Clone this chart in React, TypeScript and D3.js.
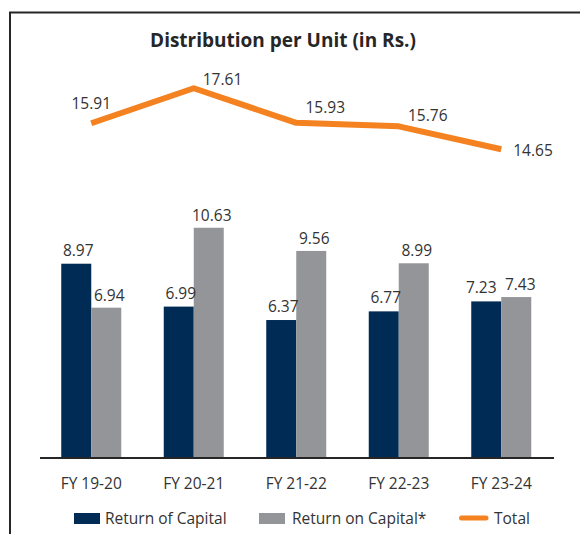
import React from "react";
import * as d3 from "d3";

const categories = ["FY 19-20", "FY 20-21", "FY 21-22", "FY 22-23", "FY 23-24"];
const returnOfCapital = [8.97, 6.99, 6.37, 6.77, 7.23];
const returnOnCapital = [6.94, 10.63, 9.56, 8.99, 7.43];
const total = [15.91, 17.61, 15.93, 15.76, 14.65];
const seriesNames = ["Return of Capital", "Return on Capital*", "Total"];
const titleText = "Distribution per Unit (in Rs.)";

// label placement (layout only)
const totalLabelPlacement = [
  { dx: 0, dy: -14, anchor: "middle" },
  { dx: 9, dy: -3, anchor: "start" },
  { dx: 29, dy: -10, anchor: "middle" },
  { dx: 29, dy: -5, anchor: "middle" },
  { dx: 12, dy: 7, anchor: "start" },
];
const navyLabelDx = [2, 2, 2, 2, -5];
const grayLabelDx = [3, 3, 3, 3, 4];

const W = 580;
const H = 534;
const NAVY = "#002b54";
const GRAY = "#939598";
const ORANGE = "#f58220";
const TEXT = "#333333";
const FONT = "'Open Sans', sans-serif";

export default function App() {
  const x = d3.scaleBand<string>().domain(categories).range([40, 552.5]).padding(0);
  const sub = d3.scaleBand<string>().domain(["roc", "ronc"]).range([0, 60]).padding(0);
  const yBar = d3.scaleLinear().domain([0, 20]).range([458, 458 - 433.2]);
  const yLine = d3.scaleLinear().domain([0, 20]).range([451, 451 - 412]);
  const cx = (c: string) => (x(c) as number) + x.bandwidth() / 2;

  const lineGen = d3
    .line<number>()
    .x((_, i) => cx(categories[i]))
    .y((d) => yLine(d));

  return (
    <div style={{ position: "absolute", left: 0, top: 0 }}>
      <svg width={W} height={H} style={{ display: "block", background: "#fff" }} fontFamily={FONT}>
        <rect x={0} y={0} width={W} height={H} fill="#fff" />
        {/* frame */}
        <path d={`M10,${H} L10,12.5 L${W},12.5`} fill="none" stroke="#262626" strokeWidth={2} />
        {/* title */}
        <text x={283} y={46.5} textAnchor="middle" fontSize={19} fontWeight={700} fill="#262626">
          {titleText}
        </text>
        {/* bars */}
        {categories.map((c, i) => {
          const bx = cx(c) - 30;
          return (
            <g key={c}>
              <rect
                x={bx + (sub("roc") as number)}
                y={yBar(returnOfCapital[i])}
                width={sub.bandwidth()}
                height={yBar(0) - yBar(returnOfCapital[i])}
                fill={NAVY}
              />
              <rect
                x={bx + (sub("ronc") as number)}
                y={yBar(returnOnCapital[i])}
                width={sub.bandwidth()}
                height={yBar(0) - yBar(returnOnCapital[i])}
                fill={GRAY}
              />
              <text
                x={bx + (sub("roc") as number) + sub.bandwidth() / 2 + navyLabelDx[i]}
                y={yBar(returnOfCapital[i]) - 8}
                textAnchor="middle"
                fontSize={15.5}
                fill={TEXT}
              >
                {returnOfCapital[i].toFixed(2)}
              </text>
              <text
                x={bx + (sub("ronc") as number) + sub.bandwidth() / 2 + grayLabelDx[i]}
                y={yBar(returnOnCapital[i]) - 7}
                textAnchor="middle"
                fontSize={15.5}
                fill={TEXT}
              >
                {returnOnCapital[i].toFixed(2)}
              </text>
              <text x={cx(c)} y={489} textAnchor="middle" fontSize={15.5} fill={TEXT}>
                {c}
              </text>
            </g>
          );
        })}
        {/* baseline */}
        <line x1={40} x2={554} y1={458} y2={458} stroke="#262626" strokeWidth={2} />
        {/* total line */}
        <path d={lineGen(total) || ""} fill="none" stroke={ORANGE} strokeWidth={6} strokeLinejoin="round" strokeLinecap="butt" />
        {total.map((v, i) => {
          const p = totalLabelPlacement[i];
          return (
            <text
              key={i}
              x={cx(categories[i]) + p.dx}
              y={yLine(v) + p.dy}
              textAnchor={p.anchor as any}
              fontSize={15.5}
              fill={TEXT}
            >
              {v.toFixed(2)}
            </text>
          );
        })}
        {/* legend */}
        <g>
          <rect x={74} y={513} width={26} height={11} fill={NAVY} />
          <text x={105} y={524} fontSize={15.5} fill={TEXT}>
            {seriesNames[0]}
          </text>
          <rect x={259} y={513} width={26} height={11} fill={GRAY} />
          <text x={292} y={524} fontSize={15.5} fill={TEXT}>
            {seriesNames[1]}
          </text>
          <line x1={461.5} x2={486} y1={518} y2={518} stroke={ORANGE} strokeWidth={5} strokeLinecap="round" />
          <text x={494} y={524} fontSize={15.5} fill={TEXT}>
            {seriesNames[2]}
          </text>
        </g>
      </svg>
    </div>
  );
}
